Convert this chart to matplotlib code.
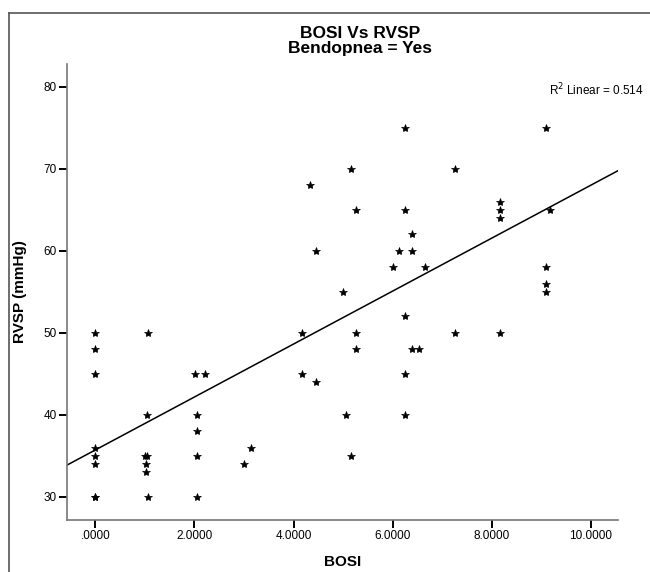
import numpy as np
import matplotlib
matplotlib.use("Agg")
import matplotlib.pyplot as plt
from matplotlib.ticker import FuncFormatter
from matplotlib.lines import Line2D

# BOSI score vs RVSP (mmHg), bendopnea = yes
bosi = [0.00, 0.00, 0.00, 0.00, 0.00, 0.00, 0.00, 0.00,
        1.06, 1.05, 1.00, 1.05, 1.02, 1.02, 1.06,
        2.02, 2.05, 2.05, 2.05, 2.05, 2.22,
        3.00, 3.15,
        4.16, 4.16, 4.45, 4.34, 4.45,
        4.99, 5.05, 5.15, 5.15, 5.26, 5.26, 5.26,
        6.00, 6.12, 6.25, 6.25, 6.25, 6.25, 6.25, 6.38, 6.38, 6.38, 6.53, 6.66,
        7.26, 7.26,
        8.16, 8.16, 8.16, 8.16,
        9.09, 9.17, 9.09, 9.09, 9.09]
rvsp = [50, 48, 45, 36, 35, 34, 30, 30,
        50, 40, 35, 35, 34, 33, 30,
        45, 40, 38, 35, 30, 45,
        34, 36,
        50, 45, 44, 68, 60,
        55, 40, 35, 70, 65, 50, 48,
        58, 60, 75, 65, 52, 45, 40, 62, 60, 48, 48, 58,
        70, 50,
        66, 65, 64, 50,
        75, 65, 58, 56, 55]

# fit line as printed in the chart
fit_intercept = 35.7
fit_slope = 3.23

x_ticks = [0, 2, 4, 6, 8, 10]
y_ticks = [30, 40, 50, 60, 70, 80]
title_lines = ['BOSI Vs RVSP', 'Bendopnea = Yes']
r2_text = r"R$^2$ Linear = 0.514"

plt.rcParams['font.family'] = ['Liberation Sans', 'DejaVu Sans']

W, H = 650, 572
fig = plt.figure(figsize=(W / 100, H / 100), dpi=100)

# outer frame (SPSS chart border)
fig.add_artist(Line2D([8.7 / W, 8.7 / W], [0, 1 - 13.3 / H], transform=fig.transFigure,
                      color='#555555', lw=1.2))
fig.add_artist(Line2D([8.7 / W, 1], [1 - 13.3 / H, 1 - 13.3 / H], transform=fig.transFigure,
                      color='#555555', lw=1.2))

ax = fig.add_axes([67.3 / W, 1 - 520 / H, (618 - 67.3) / W, (520 - 64) / H])

ax.plot(bosi, rvsp, '*', color='black', markersize=6, markeredgewidth=0.5)

xmin, xmax = -0.565, 10.545
xx = np.array([xmin, xmax])
ax.plot(xx, fit_intercept + fit_slope * xx, '-', color='black', lw=1.1)

ax.set_xlim(xmin, xmax)
ax.set_ylim(27.16, 82.77)
ax.set_xticks(x_ticks)
ax.set_yticks(y_ticks)


def fmt_x(v, pos):
    s = "%.4f" % v
    if s.startswith("0"):
        s = s[1:]
    return s


ax.xaxis.set_major_formatter(FuncFormatter(fmt_x))
ax.tick_params(axis='both', labelsize=8.5, length=5.5, width=1.4, color='black', pad=2)

for side in ['top', 'right']:
    ax.spines[side].set_visible(False)
for side in ['left', 'bottom']:
    ax.spines[side].set_color('#777777')
    ax.spines[side].set_linewidth(1.2)

ax.set_xlabel('BOSI', fontsize=11, fontweight='bold', labelpad=9)
ax.set_ylabel('RVSP (mmHg)', fontsize=11, fontweight='bold', labelpad=12)

fig.text(360 / W, 1 - 38.5 / H, title_lines[0], ha='center', va='baseline',
         fontsize=12.5, fontweight='bold')
fig.text(360 / W, 1 - 53.5 / H, title_lines[1], ha='center', va='baseline',
         fontsize=12.5, fontweight='bold')
fig.text(644 / W, 1 - 95 / H, r2_text, ha='right', va='baseline', fontsize=8.5)

fig.savefig('out.png', dpi=100)
